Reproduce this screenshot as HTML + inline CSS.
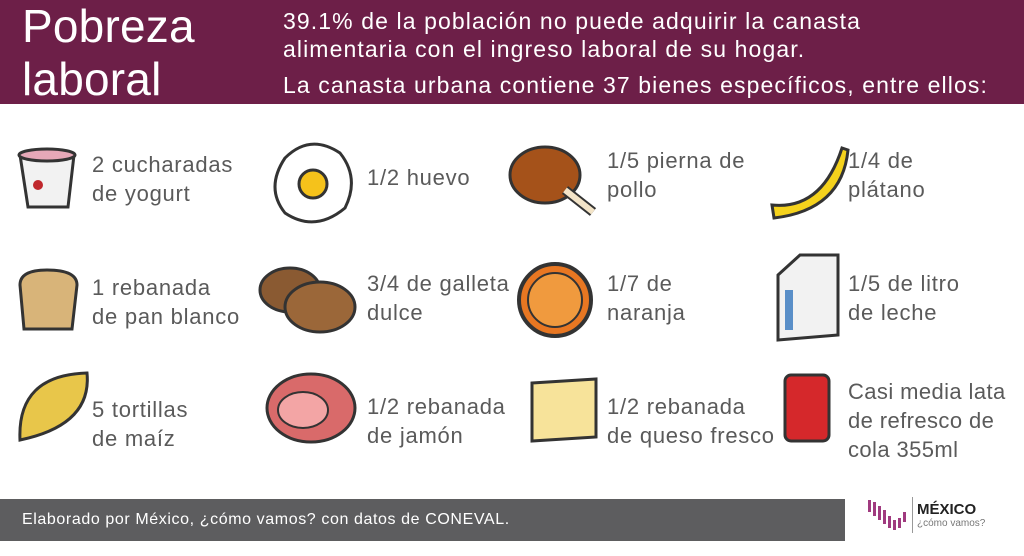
<!DOCTYPE html>
<html><head><meta charset="utf-8"><style>
body{margin:0;width:1024px;height:556px;background:#fff;position:relative;overflow:hidden;font-family:"Liberation Sans",sans-serif}
.h{position:absolute;left:0;top:0;width:1024px;height:104px;background:#6d1f48}
.t{position:absolute;color:#fff;font-size:46px;left:22px;line-height:46px;letter-spacing:0.2px}
.s{position:absolute;color:#fff;font-size:23px;left:283px;white-space:nowrap;letter-spacing:1.1px}
.l{position:absolute;color:#5a5a5a;font-size:22px;line-height:29px;white-space:nowrap;letter-spacing:0.75px}
svg{position:absolute}
.f{position:absolute;left:0;top:499px;width:845px;height:42px;background:#5d5d5f;color:#fff;font-size:16px;line-height:42px;padding-left:22px;box-sizing:border-box;letter-spacing:0.6px}
</style></head><body>
<div class="h"></div>
<div class="t" style="top:3px">Pobreza</div>
<div class="t" style="top:56px">laboral</div>
<div class="s" style="top:8px">39.1% de la población no puede adquirir la canasta</div>
<div class="s" style="top:36px">alimentaria con el ingreso laboral de su hogar.</div>
<div class="s" style="top:72px">La canasta urbana contiene 37 bienes específicos, entre ellos:</div>

<svg style="left:12px;top:145px" width="70" height="70"><path d="M8 10 L62 10 L56 62 L16 62 Z" fill="#f2f2f2" stroke="#333" stroke-width="3"/><ellipse cx="35" cy="10" rx="28" ry="6" fill="#e6a8b8" stroke="#333" stroke-width="3"/><circle cx="26" cy="40" r="5" fill="#c0282d"/></svg>
<svg style="left:265px;top:138px" width="95" height="90"><path d="M20 20 Q45 -5 75 15 Q95 40 80 70 Q50 95 20 75 Q0 50 20 20Z" fill="#fff" stroke="#333" stroke-width="3"/><circle cx="48" cy="46" r="14" fill="#f5c21b" stroke="#333" stroke-width="3"/></svg>
<svg style="left:505px;top:140px" width="100" height="85"><ellipse cx="40" cy="35" rx="35" ry="28" fill="#a5521a" stroke="#333" stroke-width="3"/><path d="M60 50 L88 72" stroke="#333" stroke-width="10"/><path d="M60 50 L88 72" stroke="#f3e4c8" stroke-width="6"/></svg>
<svg style="left:762px;top:140px" width="90" height="80"><path d="M10 65 Q60 70 80 8 L86 10 Q80 70 12 78 Z" fill="#f5d21c" stroke="#333" stroke-width="3"/></svg>
<svg style="left:12px;top:265px" width="70" height="70"><path d="M8 20 Q8 5 35 5 Q65 5 65 20 L60 64 L12 64 Z" fill="#d8b479" stroke="#333" stroke-width="3"/></svg>
<svg style="left:255px;top:262px" width="105" height="75"><ellipse cx="35" cy="28" rx="30" ry="22" fill="#8a5a32" stroke="#333" stroke-width="3"/><ellipse cx="65" cy="45" rx="35" ry="25" fill="#9b6739" stroke="#333" stroke-width="3"/></svg>
<svg style="left:515px;top:260px" width="80" height="80"><circle cx="40" cy="40" r="36" fill="#e87722" stroke="#333" stroke-width="4"/><circle cx="40" cy="40" r="27" fill="#f09a3e" stroke="#333" stroke-width="2"/></svg>
<svg style="left:770px;top:250px" width="75" height="95"><path d="M8 25 L30 5 L68 5 L68 85 L8 90 Z" fill="#f2f2f2" stroke="#333" stroke-width="3"/><rect x="15" y="40" width="8" height="40" fill="#5a8fc8"/></svg>
<svg style="left:12px;top:365px" width="85" height="85"><path d="M8 75 Q5 10 75 8 Q80 60 8 75Z" fill="#e8c64a" stroke="#333" stroke-width="3"/></svg>
<svg style="left:263px;top:368px" width="95" height="85"><ellipse cx="48" cy="40" rx="44" ry="34" fill="#d96a6a" stroke="#333" stroke-width="3"/><ellipse cx="40" cy="42" rx="25" ry="18" fill="#f3a5a5" stroke="#333" stroke-width="2"/></svg>
<svg style="left:528px;top:375px" width="72" height="70"><path d="M4 8 L68 4 L68 62 L4 66 Z" fill="#f7e39a" stroke="#333" stroke-width="3"/></svg>
<svg style="left:780px;top:370px" width="55" height="75"><rect x="5" y="5" width="44" height="66" rx="6" fill="#d5282b" stroke="#333" stroke-width="3"/></svg>

<div class="l" style="left:92px;top:150px">2 cucharadas<br>de yogurt</div>
<div class="l" style="left:367px;top:163px">1/2 huevo</div>
<div class="l" style="left:607px;top:146px">1/5 pierna de<br>pollo</div>
<div class="l" style="left:848px;top:146px">1/4 de<br>plátano</div>
<div class="l" style="left:92px;top:273px">1 rebanada<br>de pan blanco</div>
<div class="l" style="left:367px;top:269px">3/4 de galleta<br>dulce</div>
<div class="l" style="left:607px;top:269px">1/7 de<br>naranja</div>
<div class="l" style="left:848px;top:269px">1/5 de litro<br>de leche</div>
<div class="l" style="left:92px;top:395px">5 tortillas<br>de maíz</div>
<div class="l" style="left:367px;top:392px">1/2 rebanada<br>de jamón</div>
<div class="l" style="left:607px;top:392px">1/2 rebanada<br>de queso fresco</div>
<div class="l" style="left:848px;top:377px;letter-spacing:0.4px">Casi media lata<br>de refresco de<br>cola 355ml</div>

<div class="f">Elaborado por México, ¿cómo vamos? con datos de CONEVAL.</div>
<svg style="left:866px;top:498px" width="46" height="40"><g fill="#a03a7f"><rect x="2" y="2" width="3" height="12"/><rect x="7" y="4" width="3" height="14"/><rect x="12" y="8" width="3" height="14"/><rect x="17" y="12" width="3" height="14"/><rect x="22" y="18" width="3" height="12"/><rect x="27" y="22" width="3" height="10"/><rect x="32" y="20" width="3" height="10"/><rect x="37" y="14" width="3" height="10"/></g></svg>
<div style="position:absolute;left:912px;top:497px;width:1px;height:36px;background:#999"></div>
<div style="position:absolute;left:917px;top:501px;font-size:15px;font-weight:bold;color:#222">MÉXICO</div>
<div style="position:absolute;left:917px;top:518px;font-size:10px;color:#777">¿cómo vamos?</div>
</body></html>
